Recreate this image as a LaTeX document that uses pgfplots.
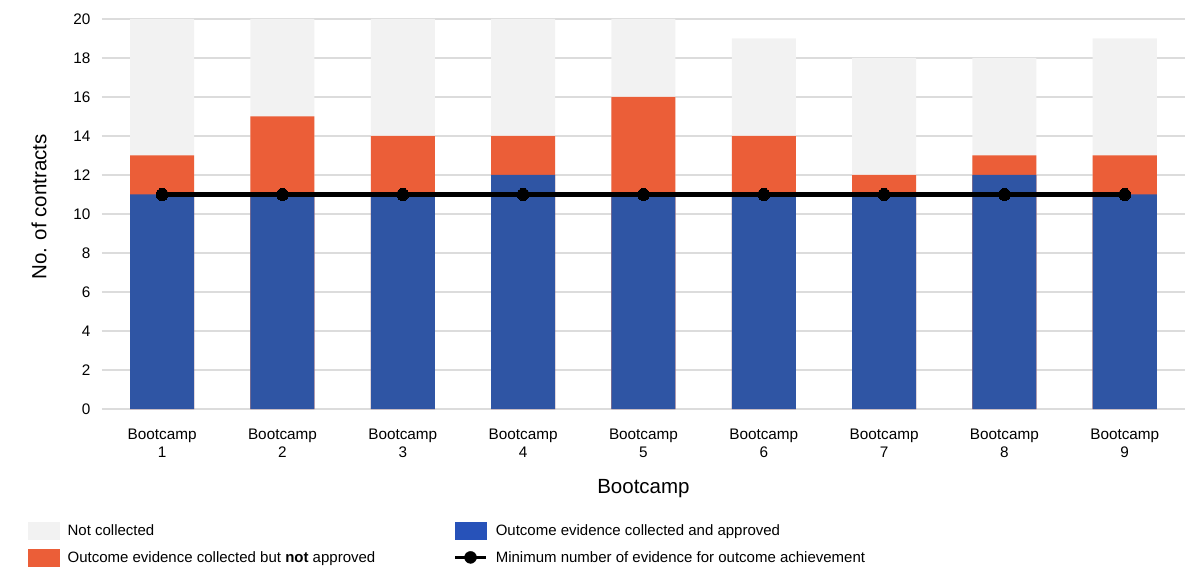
\documentclass[border=0pt]{standalone}
\usepackage{pgfplots}
\pgfplotsset{compat=1.18}
\usepackage{fontspec}
\setmainfont{Liberation Sans}
\definecolor{cblue}{HTML}{2F55A4}
\definecolor{clblue}{HTML}{2752B9}
\definecolor{corange}{HTML}{EB5E38}
\definecolor{cgrey}{HTML}{F2F2F2}
\definecolor{cgrid}{HTML}{DCDCDC}
\begin{document}
\begin{tikzpicture}
\begin{axis}[
  at={(0,0)}, anchor=south west,
  scale only axis, width=1083bp, height=390bp,
  xmin=-0.5, xmax=8.5, ymin=0, ymax=20,
  ytick={0,2,...,20},
  xtick={0,...,8},
  xticklabels={{Bootcamp\\1},{Bootcamp\\2},{Bootcamp\\3},{Bootcamp\\4},{Bootcamp\\5},{Bootcamp\\6},{Bootcamp\\7},{Bootcamp\\8},{Bootcamp\\9}},
  xticklabel style={align=center, font=\fontsize{15.3bp}{18bp}\selectfont, yshift=-12bp},
  yticklabel style={font=\fontsize{15.3bp}{16bp}\selectfont, xshift=-8bp},
  /pgf/number format/assume math mode=true,
  axis line style={draw=none}, major tick style={draw=none},
  ymajorgrids, grid style={line width=1.5bp, cgrid},
  xlabel={Bootcamp}, ylabel={No. of contracts},
  label style={font=\fontsize{20.5bp}{22bp}\selectfont},
  xlabel style={yshift=-15bp},
  ylabel style={yshift=20bp, xshift=7bp},
  ybar, bar width=64bp, bar shift=0pt,
  legend columns=2,
  legend cell align=left,
  legend style={at={(axis description cs:-0.0683,-0.29)}, anchor=north west,
    draw=none, fill=none, inner sep=0pt,
    font=\fontsize{15bp}{17bp}\selectfont,
    /tikz/every odd column/.append style={column sep=6bp},
    /tikz/column 2/.append style={column sep=76bp},
    /tikz/row sep=9bp},
]
\addlegendimage{legend image code/.code={\fill[cgrey] (0bp,-8.5bp) rectangle (31bp,8.5bp);}}
\addlegendentry{Not collected}
\addlegendimage{legend image code/.code={\fill[clblue] (0bp,-8.5bp) rectangle (31bp,8.5bp);}}
\addlegendentry{Outcome evidence collected and approved}
\addlegendimage{legend image code/.code={\fill[corange] (0bp,-8.5bp) rectangle (31bp,8.5bp);}}
\addlegendentry{Outcome evidence collected but \textbf{not} approved}
\addlegendimage{legend image code/.code={\draw[black, line width=3.5bp] (0bp,0bp) -- (31bp,0bp); \fill[black] (15.5bp,0bp) circle (6bp);}}
\addlegendentry{Minimum number of evidence for outcome achievement}
% totals (grey = not collected, on top)
\addplot[fill=cgrey, draw=none, forget plot] coordinates {(0,20) (1,20) (2,20) (3,20) (4,20) (5,19) (6,18) (7,18) (8,19)};
% collected (approved + not approved)
\addplot[fill=corange, draw=none, forget plot] coordinates {(0,13) (1,15) (2,14) (3,14) (4,16) (5,14) (6,12) (7,13) (8,13)};
% approved
\addplot[fill=cblue, draw=none, forget plot] coordinates {(0,11) (1,11) (2,11) (3,12) (4,11) (5,11) (6,11) (7,12) (8,11)};
% minimum line
\addplot[sharp plot, black, line width=4.5bp, mark=*, mark size=6bp, mark options={fill=black, line width=0pt}, forget plot] coordinates {(0,11) (1,11) (2,11) (3,11) (4,11) (5,11) (6,11) (7,11) (8,11)};
\end{axis}
\pgfresetboundingbox
\path (-102bp,-158bp) rectangle (1096bp,409bp);
\end{tikzpicture}
\end{document}
